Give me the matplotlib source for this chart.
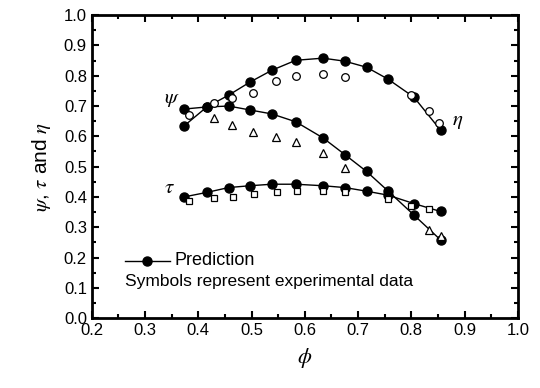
import matplotlib
matplotlib.use("Agg")
import matplotlib.pyplot as plt
from matplotlib.ticker import MultipleLocator

plt.rcParams["font.family"] = ["Liberation Sans", "DejaVu Sans"]
plt.rcParams["mathtext.fontset"] = "stix"

# prediction (filled circles joined by line)
phi_pred = [0.373, 0.416, 0.457, 0.497, 0.538, 0.583, 0.634, 0.675, 0.716, 0.756, 0.805, 0.855]
psi_pred = [0.69, 0.697, 0.70, 0.687, 0.674, 0.648, 0.595, 0.54, 0.484, 0.42, 0.34, 0.258]
eta_pred = [0.634, 0.697, 0.736, 0.779, 0.818, 0.851, 0.858, 0.848, 0.828, 0.789, 0.729, 0.62]
tau_pred = [0.40, 0.415, 0.431, 0.437, 0.442, 0.442, 0.437, 0.431, 0.419, 0.406, 0.378, 0.352]

# experimental data
phi_eta_exp = [0.382, 0.43, 0.463, 0.502, 0.545, 0.583, 0.634, 0.675, 0.80, 0.834, 0.852]
eta_exp = [0.67, 0.709, 0.726, 0.742, 0.782, 0.80, 0.806, 0.796, 0.736, 0.683, 0.644]
phi_psi_exp = [0.43, 0.463, 0.502, 0.545, 0.583, 0.634, 0.675, 0.834, 0.855]
psi_exp = [0.66, 0.637, 0.614, 0.597, 0.581, 0.544, 0.495, 0.29, 0.27]
phi_tau_exp = [0.382, 0.43, 0.465, 0.505, 0.548, 0.585, 0.634, 0.675, 0.756, 0.80, 0.834]
tau_exp = [0.385, 0.395, 0.40, 0.41, 0.417, 0.42, 0.42, 0.415, 0.393, 0.37, 0.359]

fig = plt.figure(figsize=(5.4, 3.88), dpi=100)
ax = fig.add_axes([0.170, 0.180, 0.789, 0.781])

line_kw = dict(color="black", lw=1.0, marker="o", ms=6.5, mfc="black", mec="black")
ax.plot(phi_pred, psi_pred, **line_kw)
ax.plot(phi_pred, eta_pred, **line_kw)
ax.plot(phi_pred, tau_pred, **line_kw)

open_kw = dict(ls="none", ms=5.5, mfc="white", mec="black", mew=0.9)
ax.plot(phi_eta_exp, eta_exp, marker="o", **open_kw)
ax.plot(phi_psi_exp, psi_exp, marker="^", **open_kw)
ax.plot(phi_tau_exp, tau_exp, marker="s", ms=5, ls="none", mfc="white", mec="black", mew=0.9)

ax.text(0.35, 0.72, r"$\psi$", fontsize=15, ha="center", va="center")
ax.text(0.886, 0.65, r"$\eta$", fontsize=15, ha="center", va="center")
ax.text(0.345, 0.43, r"$\tau$", fontsize=15, ha="center", va="center")

# hand-drawn legend as in the figure
ax.plot([0.262, 0.346], [0.19, 0.19], color="black", lw=1.0)
ax.plot([0.304], [0.19], "o", ms=6.5, color="black")
ax.text(0.355, 0.19, "Prediction", fontsize=13, va="center")
ax.text(0.262, 0.12, "Symbols represent experimental data", fontsize=12.5, va="center")

ax.set_xlim(0.2, 1.0)
ax.set_ylim(0.0, 1.0)
ax.xaxis.set_major_locator(MultipleLocator(0.1))
ax.xaxis.set_minor_locator(MultipleLocator(0.05))
ax.yaxis.set_major_locator(MultipleLocator(0.1))
ax.yaxis.set_minor_locator(MultipleLocator(0.05))
ax.xaxis.set_major_formatter(plt.FormatStrFormatter("%.1f"))
ax.yaxis.set_major_formatter(plt.FormatStrFormatter("%.1f"))
ax.tick_params(which="both", direction="in", top=True, right=True, labelsize=12, width=1.5)
ax.tick_params(which="major", length=5)
ax.tick_params(which="minor", length=3)
for sp in ax.spines.values():
    sp.set_linewidth(2)

ax.set_xlabel(r"$\phi$", fontsize=16, labelpad=6)
ax.set_ylabel(r"$\psi$, $\tau$ and $\eta$", fontsize=15, labelpad=8)

fig.savefig("out.png", dpi=100)
